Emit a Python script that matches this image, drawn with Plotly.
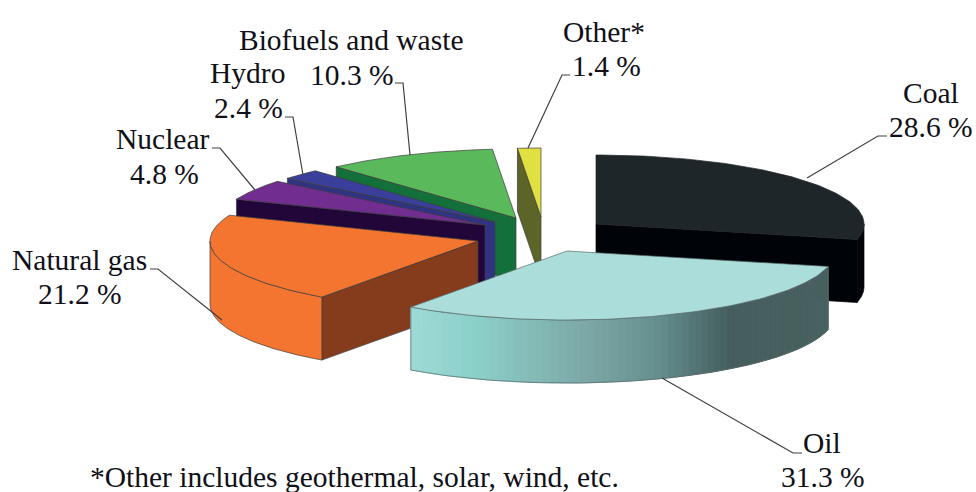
import math
import plotly.graph_objects as go

# Shares of world primary energy supply
categories = ["Coal", "Oil", "Natural gas", "Nuclear", "Hydro", "Biofuels and waste", "Other*"]
shares = [28.6, 31.3, 21.2, 4.8, 2.4, 10.3, 1.4]
footnote = "*Other includes geothermal, solar, wind, etc."

# Pie geometry, in page pixels
RX, RY, DEPTH = 268, 69, 63
APEX = {"Coal": (596, 224), "Oil": (567, 251), "Natural gas": (478, 241), "Nuclear": (485, 225),
        "Hydro": (495, 222), "Biofuels and waste": (516, 218), "Other*": (541, 217)}
STYLE = {"Coal": ("#1f262a", "#000308", "#000308"), "Oil": ("#abdeda", "#4a6462", None),
         "Natural gas": ("#f4752f", "#843c1c", "#f4752f"), "Nuclear": ("#722d90", "#22063a", "#22063a"),
         "Hydro": ("#3a3f9c", "#2f3382", "#2f3382"), "Biofuels and waste": ("#5ab95a", "#13703a", "#13703a"),
         "Other*": ("#e0e040", "#5c6428", "#5c6428")}
DRAW_ORDER = ["Coal", "Other*", "Biofuels and waste", "Hydro", "Nuclear", "Natural gas", "Oil"]
OIL_WALL_STOPS = [(0.0, (158, 218, 214)), (0.15, (140, 208, 202)), (0.42, (124, 168, 166)),
                  (0.6, (100, 142, 142)), (0.76, (70, 94, 94)), (1.0, (72, 97, 96))]

# centres of the name line and the value line, and leader line vertices
NAME_POS = {"Coal": (931, 93), "Oil": (822, 443), "Natural gas": (79, 260), "Nuclear": (163, 139),
            "Hydro": (247, 73), "Biofuels and waste": (351, 40), "Other*": (604, 32)}
VALUE_POS = {"Coal": (931, 127), "Oil": (823, 477), "Natural gas": (80, 294), "Nuclear": (164, 174),
             "Hydro": (248, 108), "Biofuels and waste": (352, 75), "Other*": (606, 66)}
LEADERS = {"Coal": [(807, 178), (878, 136), (887, 136)], "Oil": [(662, 378), (793, 453), (802, 453)],
           "Natural gas": [(222, 320), (158, 269), (150, 269)], "Nuclear": [(255, 190), (220, 148), (212, 148)],
           "Hydro": [(303, 175), (293, 117), (285, 117)], "Biofuels and waste": [(410, 155), (403, 83), (395, 83)],
           "Other*": [(528, 148), (562, 75), (570, 75)]}
TEXT_FONT = dict(family="Liberation Serif", size=29.5, color="#101018")

total = sum(shares)
spans = {}
running = 0.0
for name, share in zip(categories, shares):
    spans[name] = (running, running + share / total * 2 * math.pi)
    running = spans[name][1]


def rim(name, t):
    ax, ay = APEX[name]
    return ax + RX * math.sin(t), ay - RY * math.cos(t)


def arc(name, t0, t1, n=80):
    return [rim(name, t0 + (t1 - t0) * i / n) for i in range(n + 1)]


def lerp_color(f):
    for (f0, c0), (f1, c1) in zip(OIL_WALL_STOPS, OIL_WALL_STOPS[1:]):
        if f <= f1:
            k = (f - f0) / (f1 - f0)
            return "rgb(%d,%d,%d)" % tuple(round(a + (b - a) * k) for a, b in zip(c0, c1))
    return "rgb(%d,%d,%d)" % OIL_WALL_STOPS[-1][1]


fig = go.Figure()


def poly(points, fill, edge=None, width=0.7):
    xs = [p[0] for p in points] + [points[0][0]]
    ys = [p[1] for p in points] + [points[0][1]]
    fig.add_trace(go.Scatter(x=xs, y=ys, mode="lines", fill="toself", fillcolor=fill,
                             line=dict(color=edge or fill, width=width), hoverinfo="skip", showlegend=False))


def drop(points):
    return [(x, y + DEPTH) for x, y in points]


for name in DRAW_ORDER:
    t0, t1 = spans[name]
    top, cut, wall = STYLE[name]
    apex = APEX[name]
    edge = "#3c3c3c" if name != "Coal" else None
    # radial cut faces that look toward the viewer
    if math.sin(t1) > 0:
        poly([apex, rim(name, t1), drop([rim(name, t1)])[0], drop([apex])[0]], cut, edge)
    if math.sin(t0) < 0:
        poly([apex, rim(name, t0), drop([rim(name, t0)])[0], drop([apex])[0]], cut, edge)
    # outer wall over the front half of the rim
    w0, w1 = max(t0, math.pi / 2), min(t1, 3 * math.pi / 2)
    if w0 < w1:
        if wall is None:
            x0, x1 = rim(name, w1)[0], rim(name, w0)[0]
            n = 70
            for i in range(n):
                a = w1 + (w0 - w1) * i / n
                b = w1 + (w0 - w1) * (i + 1) / n
                seg = arc(name, a, b, 2)
                f = ((rim(name, a)[0] + rim(name, b)[0]) / 2 - x0) / (x1 - x0)
                c = lerp_color(f)
                poly(seg + drop(seg)[::-1], c, c, 1)
            seg = arc(name, w0, w1)
            poly(seg + drop(seg)[::-1], "rgba(0,0,0,0)", "#5a6a6a", 0.7)
        else:
            seg = arc(name, w0, w1)
            poly(seg + drop(seg)[::-1], wall, edge)
    # top face
    poly([apex] + arc(name, t0, t1), top, edge if name != "Oil" else "#5a6a6a")

annotations = []
for name, share in zip(categories, shares):
    xs, ys = zip(*LEADERS[name])
    fig.add_trace(go.Scatter(x=xs, y=ys, mode="lines", line=dict(color="#404040", width=1.2),
                             hoverinfo="skip", showlegend=False))
    for text, (lx, ly) in ((name, NAME_POS[name]), (f"{share} %", VALUE_POS[name])):
        annotations.append(dict(x=lx, y=ly, xref="x", yref="y", text=text, showarrow=False, font=TEXT_FONT))
annotations.append(dict(x=354, y=477, xref="x", yref="y", text=footnote, showarrow=False, font=TEXT_FONT))

fig.update_layout(width=976, height=492, margin=dict(l=0, r=0, t=0, b=0), paper_bgcolor="white",
                  plot_bgcolor="white", annotations=annotations,
                  xaxis=dict(range=[0, 976], visible=False, fixedrange=True),
                  yaxis=dict(range=[492, 0], visible=False, fixedrange=True))
fig.write_html("out.html", config=dict(displayModeBar=False))
